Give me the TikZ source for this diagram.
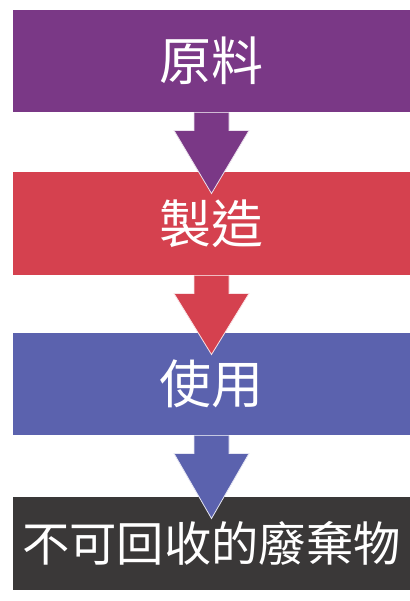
\documentclass[tikz,border=0pt]{standalone}
\usepackage{fontspec}
\newfontfamily\cjk{Noto Sans CJK TC}
\usetikzlibrary{calc}

\definecolor{rawpurple}{RGB}{122,56,134}
\definecolor{makered}{RGB}{213,65,79}
\definecolor{useblue}{RGB}{91,98,174}
\definecolor{wastegray}{RGB}{58,56,56}

\tikzset{every picture/.style={line width=0.75pt}}
\tikzset{stagebar/.style={draw=none, inner sep=0pt, minimum width=297.75pt, text=white, font=\cjk\fontsize{39}{39}\selectfont}}

\begin{document}
\begin{tikzpicture}[x=0.75pt,y=0.75pt,yscale=-1,xscale=1]
\useasboundingbox (0,0) rectangle (410,601);

% Stage bars
\node [stagebar, fill=rawpurple, minimum height=76.5pt] (raw) at (211.5,61) {原料};
\node [stagebar, fill=makered, minimum height=77.25pt] (make) at (211.5,223.5) {製造};
\node [stagebar, fill=useblue, minimum height=76.5pt] (use) at (211.5,384) {使用};
\node [stagebar, fill=wastegray, minimum height=69.75pt, font=\cjk\fontsize{35.5}{35.5}\selectfont] (waste) at (211.5,543.5) {不可回收的廢棄物};

% Block arrows
\foreach \from/\to/\col in {raw/make/rawpurple, make/use/makered, use/waste/useblue}
  \filldraw [fill=\col, draw=white!85!\col, line width=0.6pt]
    ($(\from.south)+(-17.5,0)$) -- ($(\from.south)+(-17.5,18)$) -- ($(\from.south)+(-37.5,18)$)
    -- ($(\to.north)+(0,22)$)
    -- ($(\from.south)+(37.5,18)$) -- ($(\from.south)+(17.5,18)$) -- ($(\from.south)+(17.5,0)$);
\end{tikzpicture}
\end{document}
